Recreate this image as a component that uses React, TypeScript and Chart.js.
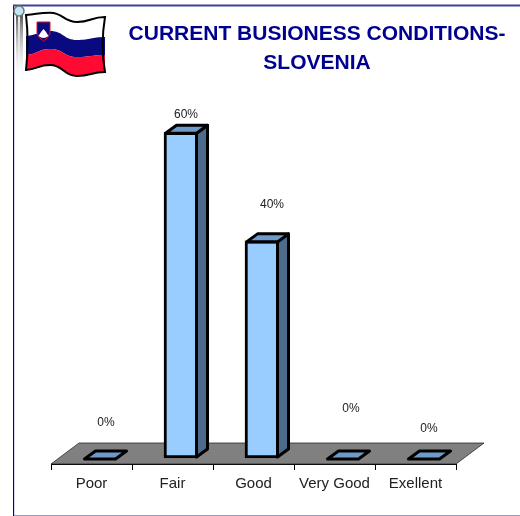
import React, { useEffect, useRef } from "react";
import { Chart, registerables } from "chart.js";

Chart.register(...registerables);

const categories = ["Poor", "Fair", "Good", "Very Good", "Exellent"];
const shares = [0, 60, 40, 0, 0];
const titleLines = ["CURRENT BUSIONESS CONDITIONS-", "SLOVENIA"];
// hand-placed label lifts (px above each bar's top) from the picture
const labelLift = [35, 18, 36, 49, 29];
const labelShift = [6, 5, 10, 8, 5];

const FRONT = "#99ccff";
const TOP = "#6d9ac8";
const SIDE = "#4d6b8c";
const FLOOR = "#808080";
const DX = 11;
const DY = -8;

function drawFlag(ctx: CanvasRenderingContext2D) {
  ctx.save();
  // pole
  const g = ctx.createLinearGradient(0, 14, 0, 82);
  g.addColorStop(0, "#555");
  g.addColorStop(1, "rgba(255,255,255,0)");
  ctx.fillStyle = g;
  ctx.fillRect(16, 14, 7, 68);
  const g2 = ctx.createLinearGradient(0, 14, 0, 82);
  g2.addColorStop(0, "#f4f4f4");
  g2.addColorStop(1, "rgba(255,255,255,0)");
  ctx.fillStyle = g2;
  ctx.fillRect(18, 14, 2, 68);
  ctx.beginPath();
  ctx.arc(19, 11, 5, 0, Math.PI * 2);
  ctx.fillStyle = "#bfe6f5";
  ctx.fill();
  ctx.lineWidth = 1.5;
  ctx.strokeStyle = "#777";
  ctx.stroke();

  const xs = [26, 50, 77, 105];
  const forward = (y: number[]) => {
    for (let i = 0; i < 3; i++) {
      const m = (xs[i] + xs[i + 1]) / 2;
      ctx.bezierCurveTo(m, i === 0 ? y[0] - 1 : y[i], m, y[i + 1], xs[i + 1], y[i + 1]);
    }
  };
  const backward = (y: number[]) => {
    for (let i = 3; i > 0; i--) {
      const m = (xs[i] + xs[i - 1]) / 2;
      ctx.bezierCurveTo(m, y[i], m, i === 1 ? y[0] - 1 : y[i - 1], xs[i - 1], y[i - 1]);
    }
  };
  const edges = [
    [15, 12.7, 22, 17],
    [36, 31, 40, 37],
    [55, 49, 57, 55],
    [70, 65, 76, 72],
  ];
  const fills = ["#ffffff", "#0a0a80", "#ff0a32"];
  fills.forEach((c, i) => {
    ctx.beginPath();
    ctx.moveTo(xs[0], edges[i][0]);
    forward(edges[i]);
    ctx.lineTo(xs[3], edges[i + 1][3]);
    backward(edges[i + 1]);
    ctx.closePath();
    ctx.fillStyle = c;
    ctx.fill();
  });
  ctx.beginPath();
  ctx.moveTo(xs[0], edges[0][0]);
  forward(edges[0]);
  ctx.bezierCurveTo(102, 35, 102, 55, xs[3], edges[3][3]);
  backward(edges[3]);
  ctx.bezierCurveTo(28, 52, 28, 32, xs[0], edges[0][0]);
  ctx.closePath();
  ctx.lineWidth = 2;
  ctx.strokeStyle = "#000";
  ctx.stroke();
  // coat of arms
  ctx.beginPath();
  ctx.moveTo(37, 22);
  ctx.lineTo(50, 22);
  ctx.lineTo(50, 33);
  ctx.quadraticCurveTo(49, 38, 43.5, 41);
  ctx.quadraticCurveTo(38, 38, 37, 33);
  ctx.closePath();
  ctx.fillStyle = "#0a0a80";
  ctx.fill();
  ctx.lineWidth = 1;
  ctx.strokeStyle = "#d01030";
  ctx.stroke();
  ctx.beginPath();
  ctx.moveTo(38.5, 36);
  ctx.lineTo(41, 32);
  ctx.lineTo(43.5, 29);
  ctx.lineTo(46, 32);
  ctx.lineTo(48.5, 36);
  ctx.quadraticCurveTo(43.5, 40, 38.5, 36);
  ctx.closePath();
  ctx.fillStyle = "#ffffff";
  ctx.fill();
  ctx.restore();
}

const scenery = {
  id: "scenery",
  afterLayout(chart: any) {
    // centre the title over the space right of the flag
    chart.titleBlock.left = 125;
    chart.titleBlock.right = 509;
  },
  beforeDraw(chart: any) {
    const ctx: CanvasRenderingContext2D = chart.ctx;
    ctx.save();
    ctx.fillStyle = "#ffffff";
    ctx.fillRect(0, 0, chart.width, chart.height);
    ctx.strokeStyle = "#9a9acb";
    ctx.lineWidth = 1;
    ctx.beginPath();
    ctx.moveTo(13, 515.5);
    ctx.lineTo(520, 515.5);
    ctx.stroke();
    ctx.strokeStyle = "#d8d8f0";
    ctx.beginPath();
    ctx.moveTo(14.5, 6);
    ctx.lineTo(14.5, 515);
    ctx.stroke();
    ctx.strokeStyle = "#000099";
    ctx.beginPath();
    ctx.moveTo(13.5, 5);
    ctx.lineTo(13.5, 516);
    ctx.stroke();
    ctx.strokeStyle = "#3f3f9f";
    ctx.lineWidth = 2;
    ctx.beginPath();
    ctx.moveTo(13, 5.5);
    ctx.lineTo(520, 5.5);
    ctx.stroke();
    ctx.restore();
    drawFlag(ctx);
  },
  beforeDatasetsDraw(chart: any) {
    const ctx: CanvasRenderingContext2D = chart.ctx;
    const { left, right, bottom } = chart.chartArea;
    ctx.save();
    ctx.beginPath();
    ctx.moveTo(left, bottom);
    ctx.lineTo(left + 28, bottom - 21);
    ctx.lineTo(right + 28, bottom - 21);
    ctx.lineTo(right, bottom);
    ctx.closePath();
    ctx.fillStyle = FLOOR;
    ctx.fill();
    ctx.strokeStyle = "#222";
    ctx.lineWidth = 0.75;
    ctx.stroke();
    ctx.restore();
  },
  afterDatasetsDraw(chart: any) {
    const ctx: CanvasRenderingContext2D = chart.ctx;
    const meta = chart.getDatasetMeta(0);
    ctx.save();
    ctx.strokeStyle = "#000";
    ctx.lineWidth = 3;
    ctx.lineJoin = "round";
    meta.data.forEach((el: any, i: number) => {
      const hw = el.width / 2 - 1.5;
      const l = el.x - hw;
      const r = el.x + hw;
      const t = el.y + 1;
      const b = el.base - 1;
      if (b - t > 2) {
        ctx.beginPath();
        ctx.moveTo(r, t);
        ctx.lineTo(r + DX, t + DY);
        ctx.lineTo(r + DX, b + DY);
        ctx.lineTo(r, b);
        ctx.closePath();
        ctx.fillStyle = SIDE;
        ctx.fill();
        ctx.stroke();
      }
      ctx.beginPath();
      ctx.moveTo(l, t);
      ctx.lineTo(l + DX, t + DY);
      ctx.lineTo(r + DX, t + DY);
      ctx.lineTo(r, t);
      ctx.closePath();
      ctx.fillStyle = TOP;
      ctx.fill();
      ctx.stroke();

      ctx.fillStyle = "#222";
      ctx.font = "12px 'Liberation Sans'";
      ctx.textAlign = "center";
      ctx.textBaseline = "middle";
      ctx.fillText(`${shares[i]}%`, el.x + labelShift[i], el.y - labelLift[i]);
    });
    ctx.restore();
  },
};

export default function App() {
  const ref = useRef<HTMLCanvasElement>(null);
  useEffect(() => {
    const chart = new Chart(ref.current!, {
      type: "bar",
      data: {
        labels: categories,
        datasets: [
          {
            data: shares.map((v, i) => ({ x: i, y: v })),
            xAxisID: "x2",
            backgroundColor: FRONT,
            borderColor: "#000",
            borderWidth: 3,
            borderSkipped: false,
            barThickness: 34,
          },
        ],
      },
      options: {
        animation: false,
        responsive: false,
        layout: { padding: { left: 51, right: 64, top: 0, bottom: 18 } },
        plugins: {
          legend: { display: false },
          tooltip: { enabled: false },
          title: {
            display: true,
            text: titleLines,
            color: "#000090",
            font: { family: "'Liberation Sans'", size: 21, weight: "bold", lineHeight: 1.38 },
            padding: { top: 20, bottom: 0 },
          },
        },
        scales: {
          x: {
            type: "category",
            offset: true,
            border: { display: true, color: "#000" },
            grid: { offset: true, drawOnChartArea: false, tickLength: 6, tickColor: "#000" },
            ticks: { color: "#222", font: { family: "'Liberation Sans'", size: 15 }, padding: 5, maxRotation: 0 },
          },
          x2: { type: "linear", display: false, offset: false, grid: { offset: false }, min: -0.605, max: 4.395 },
          y: { display: false, min: -1.1, max: 70 },
        },
      },
      plugins: [scenery],
    } as any);
    return () => chart.destroy();
  }, []);
  return (
    <canvas
      ref={ref}
      width={520}
      height={516}
      style={{ position: "absolute", left: 0, top: 0, width: 520, height: 516 }}
    />
  );
}
